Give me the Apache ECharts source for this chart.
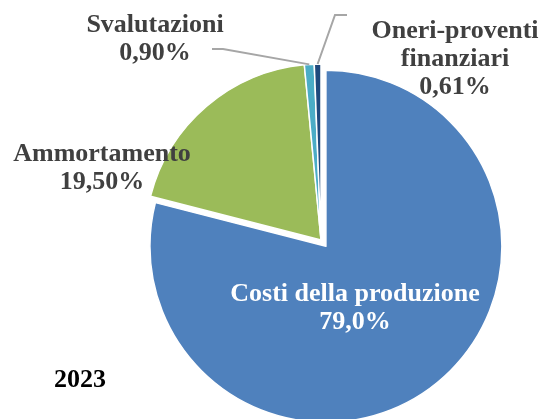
<!DOCTYPE html>
<html>
<head>
<meta charset="UTF-8">
<title>Composizione costi 2023</title>
<style type="text/css">
   html, body{
      margin:0;
      padding:0;
      background-color:#ffffff;
   }
   #container{
      width:544px;
      height:419px;
   }
</style>
</head>
<body>
<div id="container"></div>
<script src="https://cdn.jsdelivr.net/npm/echarts@6/dist/echarts.min.js"></script>
<script type="text/javascript">
// dati
var yearLabel = '2023';
var categories = ['Costi della produzione', 'Ammortamento', 'Svalutazioni', 'Oneri-proventi\nfinanziari'];
var values = [79.0, 19.5, 0.9, 0.61];
var decimals = [1, 2, 2, 2];
var colors = ['#4F81BD', '#9BBB59', '#4BACC6', '#1F497D'];

// posizione delle etichette (centro del blocco di testo)
var labelPos = [[355, 308], [102, 168], [155, 39], [455, 59]];
var linePos = [null, null, [[223, 49], [212, 49]], [[335, 15], [347, 15]]];

var font = "'Liberation Serif', 'Times New Roman', serif";
var pieCenter = [321, 240];
var pieRadius = [0, 176];

var dom = document.getElementById("container");
var myChart = echarts.init(dom);

// spicchi (il primo e' staccato)
var sliceData = [];
// etichette: serie trasparente sovrapposta, non selezionata
var labelData = [];
for (var i = 0; i < categories.length; i++) {
    sliceData.push({
        name: categories[i],
        value: values[i],
        selected: i === 0,
        itemStyle: { color: colors[i] }
    });
    labelData.push({
        name: categories[i],
        value: values[i],
        label: { color: i === 0 ? '#ffffff' : '#404040' },
        labelLine: { show: linePos[i] != null }
    });
}

function fmt(p) {
    var v = values[p.dataIndex].toFixed(decimals[p.dataIndex]).replace('.', ',');
    return p.name + '\n' + v + '%';
}

var option = {
    animation: false,
    title: {
        text: yearLabel,
        left: 49,
        top: 362,
        textStyle: {
            fontFamily: font,
            fontSize: 26,
            fontWeight: 'bold',
            color: '#000000'
        }
    },
    series: [
        {
            type: 'pie',
            center: pieCenter,
            radius: pieRadius,
            startAngle: 90,
            clockwise: true,
            selectedMode: 'single',
            selectedOffset: 8,
            silent: true,
            itemStyle: {
                borderColor: '#ffffff',
                borderWidth: 1.5
            },
            emphasis: { disabled: true },
            select: {
                itemStyle: { borderColor: '#ffffff', borderWidth: 1.5 }
            },
            label: { show: false },
            labelLine: { show: false },
            data: sliceData
        },
        {
            type: 'pie',
            center: pieCenter,
            radius: pieRadius,
            startAngle: 90,
            clockwise: true,
            silent: true,
            z: 3,
            avoidLabelOverlap: false,
            itemStyle: {
                color: 'rgba(0,0,0,0)',
                borderWidth: 0
            },
            emphasis: { disabled: true },
            label: {
                show: true,
                position: 'outside',
                formatter: fmt,
                fontFamily: font,
                fontSize: 26,
                fontWeight: 'bold',
                lineHeight: 28,
                align: 'center',
                overflow: 'none'
            },
            labelLine: {
                show: false,
                lineStyle: { color: '#A6A6A6', width: 2 }
            },
            labelLayout: function (p) {
                var i = p.dataIndex;
                var res = {
                    x: labelPos[i][0],
                    y: labelPos[i][1],
                    align: 'center',
                    verticalAlign: 'middle'
                };
                if (linePos[i]) {
                    var start = (p.labelLinePoints && p.labelLinePoints[0]) || [321, 65];
                    res.labelLinePoints = [start, linePos[i][0], linePos[i][1]];
                }
                return res;
            },
            data: labelData
        }
    ]
};

myChart.setOption(option, true);
</script>
</body>
</html>
